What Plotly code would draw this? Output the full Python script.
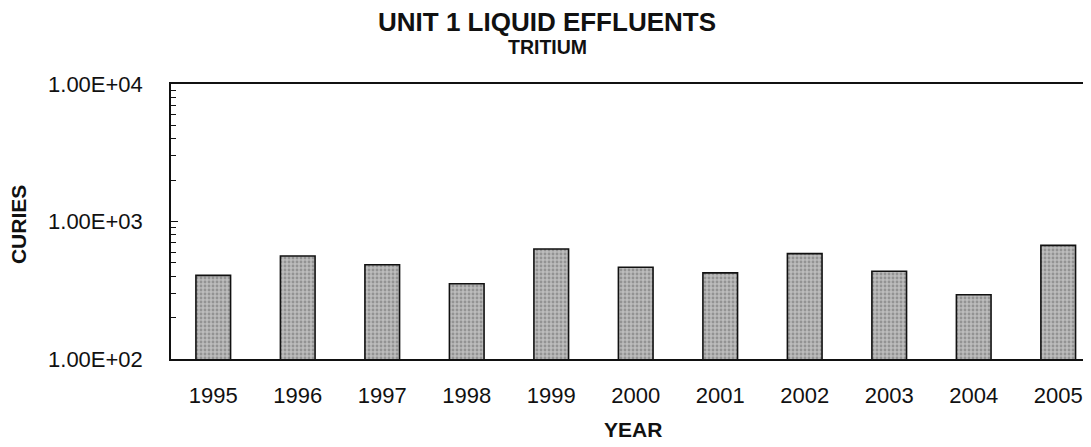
import plotly.graph_objects as go

years = ["1995", "1996", "1997", "1998", "1999", "2000", "2001", "2002", "2003", "2004", "2005"]
curies = [406, 561, 485, 353, 631, 465, 423, 584, 435, 293, 670]

major_vals = [100, 1000, 10000]
major_text = ["1.00E+02", "1.00E+03", "1.00E+04"]
minor_vals = [m * d for d in (100, 1000) for m in range(2, 10)]

FONT = "Liberation Sans, Arial, sans-serif"

fig = go.Figure()
fig.add_trace(go.Bar(
    x=years, y=curies, width=0.41,
    marker=dict(
        color="#a8a8a8",
        line=dict(color="#111111", width=1.6),
        pattern=dict(shape=".", fgcolor="#6a6a6a", bgcolor="#bcbcbc", size=4, solidity=0.4),
    ),
))

fig.update_layout(
    width=1083, height=439,
    margin=dict(l=163, r=0, t=76, b=88),
    paper_bgcolor="white", plot_bgcolor="white",
    showlegend=False,
    font=dict(family=FONT, color="#111111"),
)

fig.update_xaxes(
    type="category", range=[-0.5, 10.388],
    showline=True, linecolor="#111111", linewidth=1.5, mirror=True,
    ticks="", showgrid=False,
    tickfont=dict(size=22, family=FONT, color="#111111"),
    ticklabelstandoff=16,
)
fig.update_yaxes(
    type="log", range=[2, 4],
    showline=True, linecolor="#111111", linewidth=1.5,
    showgrid=False, zeroline=False,
    tickmode="array", tickvals=major_vals, ticktext=major_text,
    ticks="inside", ticklen=7, tickwidth=1.2, tickcolor="#111111",
    tickfont=dict(size=22, family=FONT, color="#111111"),
    ticklabelstandoff=22,
    minor=dict(tickmode="array", tickvals=minor_vals, ticks="inside",
               ticklen=5, tickwidth=1, tickcolor="#111111"),
)

fig.add_annotation(text="<b>UNIT 1 LIQUID EFFLUENTS</b>", xref="paper", yref="paper",
                   x=0.4087, y=1.2255, xanchor="center", yanchor="middle",
                   showarrow=False, font=dict(size=26, family=FONT, color="#111111"))
fig.add_annotation(text="<b>TRITIUM</b>", xref="paper", yref="paper",
                   x=0.4087, y=1.1345, xanchor="center", yanchor="middle",
                   showarrow=False, font=dict(size=19.5, family=FONT, color="#111111"))
fig.add_annotation(text="<b>YEAR</b>", xref="paper", yref="paper",
                   x=0.502, y=-0.258, xanchor="center", yanchor="middle",
                   showarrow=False, font=dict(size=21, family=FONT, color="#111111"))
fig.add_annotation(text="<b>CURIES</b>", xref="paper", yref="paper",
                   x=-0.1663, y=0.487, xanchor="center", yanchor="middle", textangle=-90,
                   showarrow=False, font=dict(size=21, family=FONT, color="#111111"))

fig.write_html("out.html")
